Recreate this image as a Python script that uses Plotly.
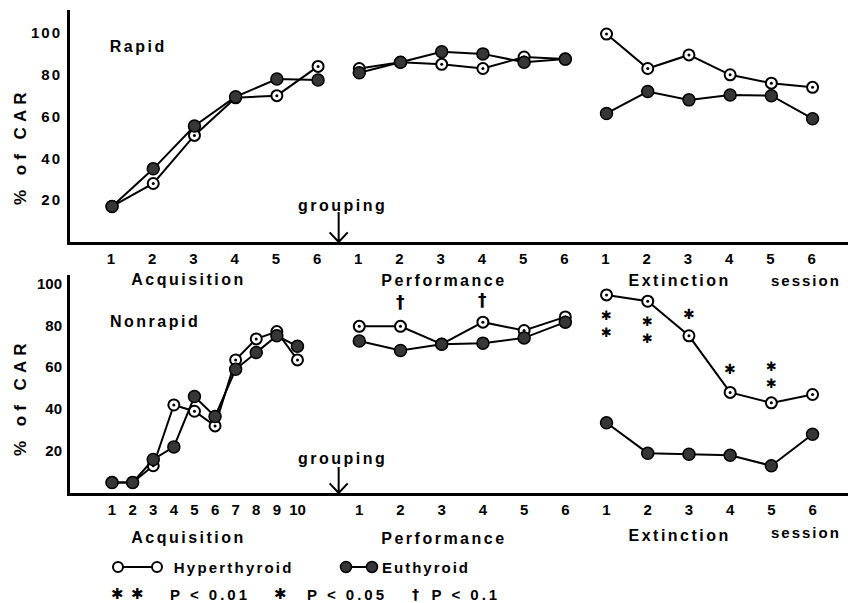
import plotly.graph_objects as go

# ---------------- data ----------------
acq_rapid_sessions = [1, 2, 3, 4, 5, 6]
acq_nonrapid_sessions = [1, 2, 3, 4, 5, 6, 7, 8, 9, 10]
perf_sessions = [1, 2, 3, 4, 5, 6]
ext_sessions = [1, 2, 3, 4, 5, 6]

# Rapid group (% of CAR)
rapid_acq_hyper = [17, 28, 51, 69, 70, 84]
rapid_acq_eu = [17, 35, 55.5, 69.5, 78, 77.5]
rapid_perf_hyper = [83, 86, 85, 83, 88.5, 87.5]
rapid_perf_eu = [81, 86, 91, 90, 86, 87.5]
rapid_ext_hyper = [99.5, 83, 89.5, 80, 76, 74]
rapid_ext_eu = [61.5, 72, 68, 70.3, 70, 59]

# Nonrapid group (% of CAR)
nonrapid_acq_hyper = [5, 5, 13, 42, 39, 32, 63.5, 73.5, 77, 63.5]
nonrapid_acq_eu = [5, 5, 16, 22, 46, 36.5, 59, 67, 75, 70]
nonrapid_perf_hyper = [79.5, 79.5, 71, 81.5, 77.5, 84]
nonrapid_perf_eu = [72.5, 68, 71, 71.5, 74, 81.5]
nonrapid_ext_hyper = [94.5, 91.5, 75, 48, 43, 47]
nonrapid_ext_eu = [33.5, 19, 18.5, 18, 13, 28]

# significance marks (nonrapid panel): phase, session, symbol, y level (centre)
sig_phase = ["perf", "perf", "ext", "ext", "ext", "ext", "ext"]
sig_session = [2, 4, 1, 2, 3, 4, 5]
sig_symbol = ["†", "†", "**", "**", "*", "*", "**"]
sig_level = [91, 92, 80.4, 78, 85.2, 59.3, 56.5]

ytick_vals = [20, 40, 60, 80, 100]
ytick_text = ["20", "40", "60", "80", "100"]

# ---------------- layout helpers ----------------
W, H = 848, 603
FONT = "Liberation Sans"
SYM_FONT = "DejaVu Sans"
STAR = "\u2731"
GROUP_POS = 5.5


def pos_acq_rapid(s):
    return s - 1


def pos_acq_nonrapid(s):
    return (s - 1) * 0.5


def pos_perf(s):
    return 5 + s


def pos_ext(s):
    return 11 + s


def px(x):
    return x / W


def py(y):
    return 1 - y / H


def series(acq_pos, acq, perf, ext):
    xs = list(acq_pos) + [None] + [pos_perf(s) for s in perf_sessions] + [None] + [pos_ext(s) for s in ext_sessions]
    ys = list(acq) + [None] + list(perf) + [None] + list(ext)
    return xs, ys


fig = go.Figure()

panels = [
    ("x", "y", [pos_acq_rapid(s) for s in acq_rapid_sessions],
     (rapid_acq_hyper, rapid_perf_hyper, rapid_ext_hyper),
     (rapid_acq_eu, rapid_perf_eu, rapid_ext_eu)),
    ("x2", "y2", [pos_acq_nonrapid(s) for s in acq_nonrapid_sessions],
     (nonrapid_acq_hyper, nonrapid_perf_hyper, nonrapid_ext_hyper),
     (nonrapid_acq_eu, nonrapid_perf_eu, nonrapid_ext_eu)),
]

for xa, ya, acq_pos, hyp, eu in panels:
    hx, hy = series(acq_pos, *hyp)
    ex, ey = series(acq_pos, *eu)
    fig.add_trace(go.Scatter(
        x=hx, y=hy, xaxis=xa, yaxis=ya, mode="lines+markers", name="Hyperthyroid",
        line=dict(color="black", width=2),
        marker=dict(size=11, color="white", line=dict(color="black", width=2)),
        connectgaps=False, showlegend=False, hoverinfo="skip"))
    fig.add_trace(go.Scatter(
        x=hx, y=hy, xaxis=xa, yaxis=ya, mode="markers",
        marker=dict(size=3, color="black"), showlegend=False, hoverinfo="skip"))
    fig.add_trace(go.Scatter(
        x=ex, y=ey, xaxis=xa, yaxis=ya, mode="lines+markers", name="Euthyroid",
        line=dict(color="black", width=2),
        marker=dict(size=12, color="#363636", line=dict(color="black", width=1.5)),
        connectgaps=False, showlegend=False, hoverinfo="skip"))

tickfont = dict(family=FONT, size=15, color="black", weight="bold")

top_tickvals = [pos_acq_rapid(s) for s in acq_rapid_sessions] + [pos_perf(s) for s in perf_sessions] + [pos_ext(s) for s in ext_sessions]
top_ticktext = [str(s) for s in acq_rapid_sessions] + [str(s) for s in perf_sessions] + [str(s) for s in ext_sessions]
bot_tickvals = [pos_acq_nonrapid(s) for s in acq_nonrapid_sessions] + [pos_perf(s) for s in perf_sessions] + [pos_ext(s) for s in ext_sessions]
bot_ticktext = [str(s) for s in acq_nonrapid_sessions] + [str(s) for s in perf_sessions] + [str(s) for s in ext_sessions]

xcommon = dict(range=[-1.02, 17.86], showline=True, linecolor="black", linewidth=3,
               showgrid=False, zeroline=False, ticks="", tickfont=tickfont,
               ticklabelstandoff=1, fixedrange=True)
ycommon = dict(showline=True, linecolor="black", linewidth=3, showgrid=False,
               zeroline=False, ticks="", tickvals=ytick_vals, ticktext=ytick_text,
               tickfont=tickfont, ticklabelstandoff=2, fixedrange=True)

fig.update_layout(
    width=W, height=H,
    margin=dict(l=0, r=0, t=0, b=0, autoexpand=False),
    paper_bgcolor="white", plot_bgcolor="white",
    showlegend=False,
    xaxis=dict(domain=[70 / W, 1], anchor="y", tickvals=top_tickvals, ticktext=top_ticktext, **xcommon),
    yaxis=dict(domain=[py(242), py(10)], anchor="x", range=[0, 111], **ycommon),
    xaxis2=dict(domain=[70 / W, 1], anchor="y2", tickvals=bot_tickvals, ticktext=bot_ticktext, **xcommon),
    yaxis2=dict(domain=[py(493), py(275)], anchor="x2", range=[0, 104], **ycommon),
)


# ---------------- text ----------------
def txt(text, x, y, size=16, xref="paper", yref="paper", angle=0, family=FONT):
    fig.add_annotation(text=text, x=x, y=y, xref=xref, yref=yref, showarrow=False,
                       xanchor="center", yanchor="middle", textangle=angle,
                       font=dict(family=family, size=size, color="black", weight="bold"))


# y titles
txt("% of CAR", px(20), py(147), size=17, angle=-90)
txt("% of CAR", px(20), py(398), size=17, angle=-90)

# panel labels
txt("Rapid", px(138), py(47))
txt("Nonrapid", px(155), py(321))

# phase labels
for (lbl, x, yt, yb, sz) in [("Acquisition", 188, 279, 537, 16), ("Performance", 444, 280, 538, 16),
                             ("Extinction", 679, 280, 535, 16), ("session", 806, 280, 532, 15)]:
    txt(lbl, px(x), py(yt), size=sz)
    txt(lbl, px(x), py(yb), size=sz)

# grouping arrows
for xr, yr, shaft, yt in [("x", "y", 14.4, 205), ("x2", "y2", 12.4, 458)]:
    txt("grouping", px(342), py(yt))
    fig.add_shape(type="path", xref=xr, yref=yr,
                  path=f"M {GROUP_POS},{shaft} L {GROUP_POS},0 M {GROUP_POS-0.22},4.6 L {GROUP_POS},0 L {GROUP_POS+0.22},4.6",
                  line=dict(color="black", width=2))

# significance marks
for ph, s, sym, lv in zip(sig_phase, sig_session, sig_symbol, sig_level):
    xpos = pos_perf(s) if ph == "perf" else pos_ext(s)
    if sym == "†":
        txt("†", xpos, lv, size=17, xref="x2", yref="y2", family=SYM_FONT)
    elif sym == "**":
        txt(STAR + "<br>" + STAR, xpos, lv, size=13, xref="x2", yref="y2", family=SYM_FONT)
    else:
        txt(STAR, xpos, lv, size=14, xref="x2", yref="y2", family=SYM_FONT)

# legend (manual, as in the original figure)
leg_y = py(567)
fig.add_shape(type="line", xref="paper", yref="paper", x0=px(118), x1=px(157), y0=leg_y, y1=leg_y,
              line=dict(color="black", width=2))
for cx in (118, 157):
    fig.add_shape(type="circle", xref="paper", yref="paper", xsizemode="pixel", ysizemode="pixel",
                  xanchor=px(cx), yanchor=leg_y, x0=-5, x1=5, y0=-5, y1=5,
                  line=dict(color="black", width=2), fillcolor="white")
txt("Hyperthyroid", px(233), leg_y, size=15)
fig.add_shape(type="line", xref="paper", yref="paper", x0=px(346), x1=px(372), y0=leg_y, y1=leg_y,
              line=dict(color="black", width=2))
for cx in (346, 372):
    fig.add_shape(type="circle", xref="paper", yref="paper", xsizemode="pixel", ysizemode="pixel",
                  xanchor=px(cx), yanchor=leg_y, x0=-5.5, x1=5.5, y0=-5.5, y1=5.5,
                  line=dict(color="black", width=1.5), fillcolor="#363636")
txt("Euthyroid", px(426), leg_y, size=15)

sig_y = py(594)
txt(STAR + "\u2002" + STAR, px(127), sig_y, size=15, family=SYM_FONT)
txt("P < 0.01", px(210), sig_y, size=15)
txt(STAR, px(280), sig_y, size=15, family=SYM_FONT)
txt("P < 0.05", px(347), sig_y, size=15)
txt("†", px(415), sig_y, size=14, family=SYM_FONT)
txt("P < 0.1", px(466), sig_y, size=15)

post = """
document.body.style.margin = '0';
document.body.style.overflow = 'hidden';
var gd = document.getElementById('{plot_id}');
var special = {'session': '2px', 'Hyperthyroid': '2.2px', 'Euthyroid': '2px',
               'P < 0.01': '3px', 'P < 0.05': '3px', 'P < 0.1': '3px'};
gd.querySelectorAll('.annotation-text').forEach(function(t){
  var s = t.textContent;
  if (s.indexOf('CAR') >= 0) { t.style.letterSpacing = '5px'; }
  else if (special[s]) { t.style.letterSpacing = special[s]; }
  else if (s.length > 3 && s.indexOf('\\u2731') < 0) { t.style.letterSpacing = '2.5px'; }
});
gd.querySelectorAll('.xtick text, .ytick text').forEach(function(t){ t.style.letterSpacing = '2px'; });
"""

fig.write_html("out.html", post_script=post, config={"staticPlot": True})
